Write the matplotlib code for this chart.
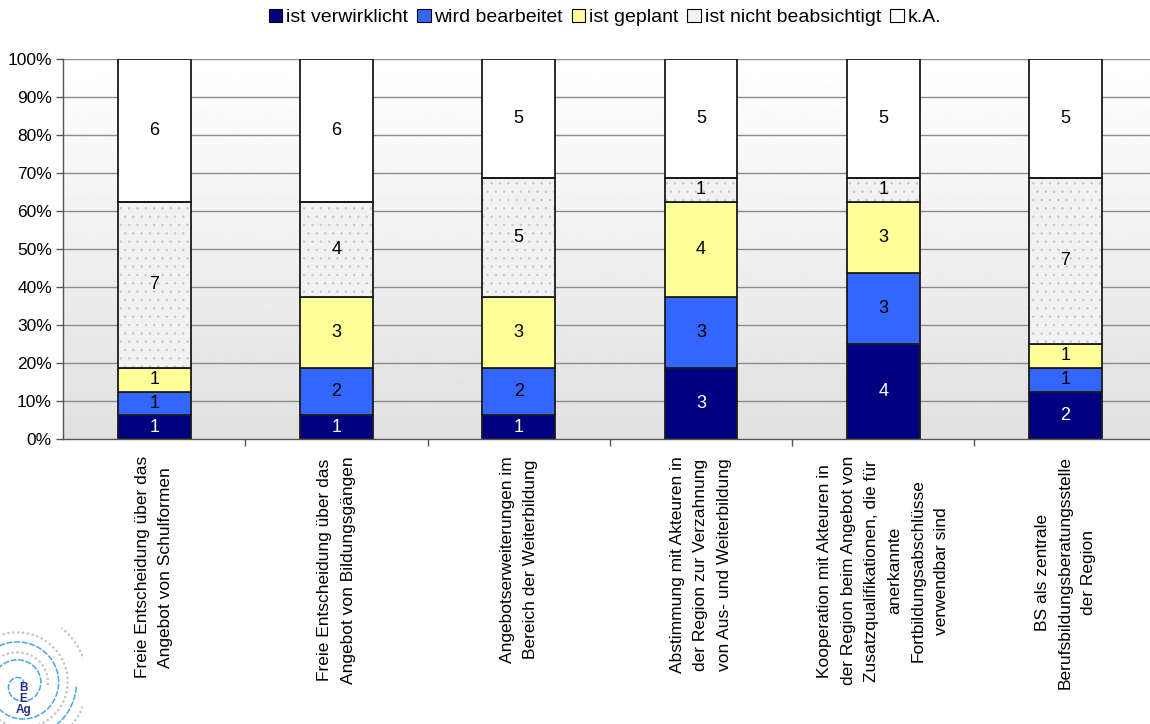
import numpy as np
import matplotlib.pyplot as plt
from matplotlib.patches import Patch

plt.rcParams['font.family'] = ['Liberation Sans', 'DejaVu Sans']
plt.rcParams['hatch.linewidth'] = 0.6

# counts per measure (16 schools each)
categories = [
    "Freie Entscheidung über das\nAngebot von Schulformen",
    "Freie Entscheidung über das\nAngebot von Bildungsgängen",
    "Angebotserweiterungen im\nBereich der Weiterbildung",
    "Abstimmung mit Akteuren in\nder Region zur Verzahnung\nvon Aus- und Weiterbildung",
    "Kooperation mit Akteuren in\nder Region beim Angebot von\nZusatzqualifikationen, die für\nanerkannte\nFortbildungsabschlüsse\nverwendbar sind",
    "BS als zentrale\nBerufsbildungsberatungsstelle\nder Region",
]
verwirklicht = [1, 1, 1, 3, 4, 2]
bearbeitet = [1, 2, 2, 3, 3, 1]
geplant = [1, 3, 3, 4, 3, 1]
nicht_beabsichtigt = [7, 4, 5, 1, 1, 7]
keine_angabe = [6, 6, 5, 5, 5, 5]

series = [
    ("ist verwirklicht", verwirklicht, '#000080', None, 'white'),
    ("wird bearbeitet", bearbeitet, '#3366ff', None, 'black'),
    ("ist geplant", geplant, '#ffff99', None, 'black'),
    ("ist nicht beabsichtigt", nicht_beabsichtigt, '#f2f2f2', '..', 'black'),
    ("k.A.", keine_angabe, 'white', None, 'black'),
]

totals = np.sum([s[1] for s in series], axis=0)
x = np.arange(len(categories))

fig = plt.figure(figsize=(11.5, 7.24), dpi=100)
ax = fig.add_axes([0.0548, 0.3936, 0.951, 0.5249])

# plot area gradient: white at top, light grey at bottom
grad = np.linspace(0.88, 1.0, 256).reshape(-1, 1)
ax.imshow(grad, cmap='gray', vmin=0, vmax=1, aspect='auto',
          extent=[-0.5, 5.5, 0, 100], origin='lower', zorder=0)

ax.set_xlim(-0.5, 5.5)
ax.set_ylim(0, 100)
for yv in range(10, 101, 10):
    ax.axhline(yv, color='#8c8c8c', lw=1, zorder=1)

bottom = np.zeros(len(categories))
for name, vals, color, hatch, tcolor in series:
    pct = np.array(vals) / totals * 100
    if hatch:
        # faint dot pattern first, black outline on top
        ax.bar(x, pct, bottom=bottom, width=0.4, color=color, hatch=hatch,
               edgecolor='#c8c8c8', linewidth=0, zorder=2)
        ax.bar(x, pct, bottom=bottom, width=0.4, fill=False,
               edgecolor='#1a1a1a', linewidth=1.3, zorder=2.1)
    else:
        ax.bar(x, pct, bottom=bottom, width=0.4, color=color,
               edgecolor='#1a1a1a', linewidth=1.3, zorder=2)
    for xi, b, p, v in zip(x, bottom, pct, vals):
        ax.text(xi, b + p / 2, str(v), ha='center', va='center',
                fontsize=13, color=tcolor, zorder=3)
    bottom += pct

ax.set_yticks(range(0, 101, 10))
ax.set_yticklabels([f"{v}%" for v in range(0, 101, 10)], fontsize=12.5)
ax.tick_params(axis='y', length=5, color='#555555', width=1, pad=3)
ax.set_xticks(np.arange(0.5, 5.5, 1))
ax.set_xticklabels([])
ax.tick_params(axis='x', length=5, color='#555555', width=1)
for side in ['top', 'right']:
    ax.spines[side].set_visible(False)
for side in ['left', 'bottom']:
    ax.spines[side].set_color('#555555')
    ax.spines[side].set_linewidth(1)

for xi, label in zip(x, categories):
    ax.text(xi, -4.5, label, rotation=90, ha='center', va='top',
            multialignment='center', fontsize=12.5, linespacing=1.7,
            transform=ax.transData, clip_on=False)

handles = [Patch(facecolor=c, edgecolor='black', linewidth=0.8)
           for _, _, c, _, _ in series]
fig.legend(handles, [s[0] for s in series], loc='upper center',
           bbox_to_anchor=(0.526, 1.012), ncol=5, frameon=False, fontsize=14,
           handlelength=0.7, handleheight=0.7, handletextpad=0.2,
           columnspacing=0.45)

# small spiral logo in the lower left corner
logo = fig.add_axes([-0.0374, -0.0338, 0.11, 0.1754])
logo.set_xlim(-1, 1)
logo.set_ylim(-1, 1)
logo.axis('off')
t = np.linspace(0, 6 * np.pi, 600)
r = 0.04 + 0.045 * t
logo.plot(r * np.cos(t), r * np.sin(t), color='#4da6e0', lw=1.1, ls=(0, (4, 1)))
t2 = np.linspace(2 * np.pi, 6.3 * np.pi, 400)
r2 = 0.12 + 0.05 * t2
logo.plot(r2 * np.cos(t2), r2 * np.sin(t2), color='#9a9a9a',
          lw=1.6, ls=(0, (1, 1.2)), alpha=0.6)
logo.text(0.05, -0.22, "B\nE\nAg", color='#2a2a8a', fontsize=8.5, fontweight='bold',
          ha='center', va='center', linespacing=0.85)

fig.savefig("out.png", dpi=100)
plt.close(fig)
